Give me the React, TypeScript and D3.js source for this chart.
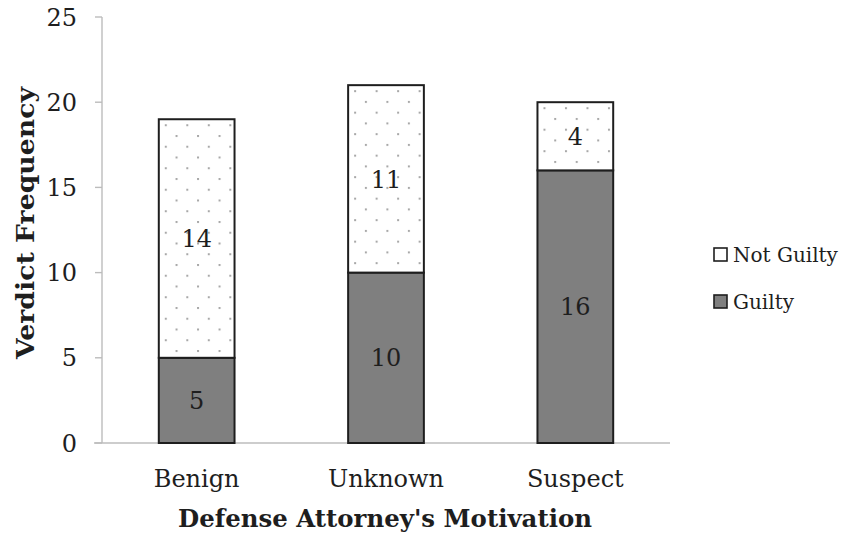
import * as React from 'react'
import { scaleBand, scaleLinear, stack } from 'd3'

const categories = ['Benign', 'Unknown', 'Suspect']
const guilty = [5, 10, 16]
const notGuilty = [14, 11, 4]
const yTicks = [0, 5, 10, 15, 20, 25]
const seriesNames = ['Guilty', 'Not Guilty']
const legendOrder = ['Not Guilty', 'Guilty']

const font = '"DejaVu Serif", serif'
const ink = '#1e1e1e'
const axisGrey = '#bcbcbc'
const guiltyFill = '#7f7f7f'

function App() {
  const width = 852
  const height = 533
  const left = 102
  const right = 670
  const top = 17
  const bottom = 443

  const x = scaleBand().domain(categories).range([left, right]).paddingInner(0.6).paddingOuter(0.3)
  const y = scaleLinear().domain([0, 25]).range([bottom, top])

  const rows = categories.map((c, i) => ({ cat: c, Guilty: guilty[i], 'Not Guilty': notGuilty[i] }))
  const layers = stack<any>().keys(seriesNames)(rows)
  const bw = x.bandwidth()
  const step = 21.5

  return (
    <svg width={width} height={height} style={{ position: 'absolute', left: 0, top: 0, background: '#fff' }}>
      <defs>
        {categories.map((c, i) => {
          const top = layers[1][i][1]
          return (
            <pattern
              key={c}
              id={`dots${i}`}
              width={step}
              height={step}
              patternUnits="userSpaceOnUse"
              x={x(c)! + 6}
              y={y(top) + 5}
            >
              <rect width={step} height={step} fill="#fff" />
              <rect x={0} y={0} width={2} height={2} fill="#a8a8a8" />
              <rect x={step / 2} y={step / 2} width={2} height={2} fill="#a8a8a8" />
            </pattern>
          )
        })}
      </defs>

      {/* axes */}
      <line x1={left} x2={left} y1={top} y2={bottom} stroke={axisGrey} strokeWidth={1.4} />
      <line x1={left - 8} x2={right} y1={bottom} y2={bottom} stroke={axisGrey} strokeWidth={1.4} />
      {yTicks.map((t) => (
        <g key={t}>
          <line x1={left - 7} x2={left} y1={y(t)} y2={y(t)} stroke={axisGrey} strokeWidth={1.4} />
          <text x={77} y={y(t)} dy="0.36em" textAnchor="end" fontFamily={font} fontSize={24} fill={ink}>
            {t}
          </text>
        </g>
      ))}

      {/* bars */}
      {layers.map((layer) =>
        layer.map((d, i) => {
          const x0 = x(categories[i])!
          const y0 = y(d[1])
          const h = y(d[0]) - y(d[1])
          const isGuilty = layer.key === 'Guilty'
          return (
            <g key={layer.key + i}>
              <rect
                x={x0}
                y={y0}
                width={bw}
                height={h}
                fill={isGuilty ? guiltyFill : `url(#dots${i})`}
                stroke={ink}
                strokeWidth={2}
              />
              <text
                x={x0 + bw / 2}
                y={y0 + h / 2}
                dy="0.36em"
                textAnchor="middle"
                fontFamily={font}
                fontSize={24}
                fill={ink}
              >
                {d[1] - d[0]}
              </text>
            </g>
          )
        })
      )}

      {/* category labels */}
      {categories.map((c) => (
        <text key={c} x={x(c)! + bw / 2} y={487} textAnchor="middle" fontFamily={font} fontSize={24} fill={ink}>
          {c}
        </text>
      ))}

      {/* axis titles */}
      <text
        x={385}
        y={527}
        textAnchor="middle"
        fontFamily={font}
        fontSize={24}
        fontWeight="bold"
        fill={ink}
        textLength={414}
        lengthAdjust="spacingAndGlyphs"
      >
        Defense Attorney's Motivation
      </text>
      <text
        transform="translate(25,223) rotate(-90)"
        dy="0.36em"
        textAnchor="middle"
        fontFamily={font}
        fontSize={24}
        fontWeight="bold"
        fill={ink}
        textLength={272}
        lengthAdjust="spacingAndGlyphs"
      >
        Verdict Frequency
      </text>

      {/* legend */}
      {legendOrder.map((s, i) => (
        <g key={s} transform={`translate(714, ${248 + i * 47})`}>
          <rect
            x={0}
            y={0}
            width={13}
            height={13}
            fill={s === 'Guilty' ? guiltyFill : '#fff'}
            stroke={ink}
            strokeWidth={1.6}
          />
          <text x={19} y={6.5} dy="0.36em" fontFamily={font} fontSize={20} fill={ink}>
            {s}
          </text>
        </g>
      ))}
    </svg>
  )
}

export default App
